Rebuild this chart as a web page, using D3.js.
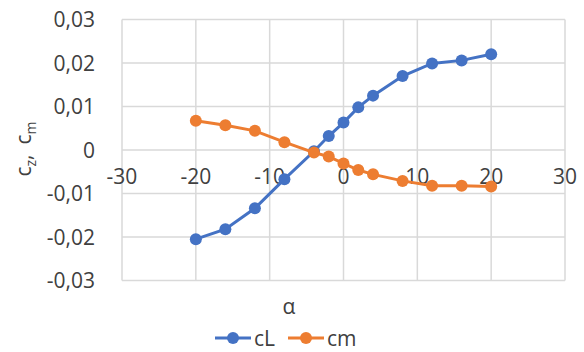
<!DOCTYPE html>
<html>
<head>
<meta charset="utf-8">
<script src="https://cdn.jsdelivr.net/npm/d3@7"></script>
<style>
  body { margin: 0; background: #fff; }
  svg { font-family: "Open Sans", sans-serif; }
  .grid line { stroke: #d9d9d9; stroke-width: 1.5; }
  .tick-label { fill: #404040; font-size: 21px; }
</style>
</head>
<body>
<svg width="584" height="352"></svg>
<script>
var alpha = [-20, -16, -12, -8, -4, -2, 0, 2, 4, 8, 12, 16, 20];
var cL = [-0.0205, -0.0182, -0.0134, -0.0067, -0.0003, 0.0032, 0.0063, 0.0098, 0.0125, 0.0170, 0.0199, 0.0206, 0.0220];
var cm = [0.0067, 0.0057, 0.0044, 0.0018, -0.0006, -0.0015, -0.0031, -0.0046, -0.0056, -0.0071, -0.0082, -0.0082, -0.0084];
var xTicks = [-30, -20, -10, 0, 10, 20, 30];
var yTicks = [-0.03, -0.02, -0.01, 0, 0.01, 0.02, 0.03];
var seriesNames = ["cL", "cm"];
var colors = ["#4472C4", "#ED7D31"];

var svg = d3.select("svg");
var x = d3.scaleLinear().domain([-30, 30]).range([122, 565]);
var y = d3.scaleLinear().domain([-0.03, 0.03]).range([280.5, 19.5]);

var fmtY = function (v) {
  if (Math.abs(v) < 1e-9) return "0";
  return d3.format(".2f")(v).replace(".", ",").replace("−", "-");
};

// gridlines
var grid = svg.append("g").attr("class", "grid");
grid.selectAll("line.h").data(yTicks).enter().append("line")
  .attr("x1", x(-30)).attr("x2", x(30))
  .attr("y1", function (d) { return y(d); }).attr("y2", function (d) { return y(d); });
grid.selectAll("line.v").data(xTicks).enter().append("line")
  .attr("y1", y(0.03)).attr("y2", y(-0.03))
  .attr("x1", function (d) { return x(d); }).attr("x2", function (d) { return x(d); });

// y tick labels
svg.selectAll("text.yl").data(yTicks).enter().append("text")
  .attr("class", "tick-label")
  .attr("x", 95)
  .attr("y", function (d) { return y(d); })
  .attr("dy", "0.36em")
  .attr("text-anchor", "end")
  .text(fmtY);

// x tick labels, sitting on the zero line
svg.selectAll("text.xl").data(xTicks).enter().append("text")
  .attr("class", "tick-label")
  .attr("x", function (d) { return x(d); })
  .attr("y", y(0) + 34)
  .attr("text-anchor", "middle")
  .text(function (d) { return String(d); });

// series
var series = [cL, cm];
var line = d3.line()
  .x(function (d, i) { return x(alpha[i]); })
  .y(function (d) { return y(d); });

series.forEach(function (vals, s) {
  svg.append("path")
    .attr("d", line(vals))
    .attr("fill", "none")
    .attr("stroke", colors[s])
    .attr("stroke-width", 3);
  svg.selectAll("circle.s" + s).data(vals).enter().append("circle")
    .attr("cx", function (d, i) { return x(alpha[i]); })
    .attr("cy", function (d) { return y(d); })
    .attr("r", 6)
    .attr("fill", colors[s]);
});

// axis titles
svg.append("text")
  .attr("class", "tick-label")
  .attr("x", 289).attr("y", 314)
  .attr("text-anchor", "middle")
  .text("α");

var yt = svg.append("text")
  .attr("class", "tick-label")
  .attr("transform", "translate(31,149) rotate(-90)")
  .attr("text-anchor", "middle");
yt.append("tspan").text("c");
yt.append("tspan").attr("font-size", 14).attr("dy", 5).text("z");
yt.append("tspan").attr("dy", -5).text(",");
yt.append("tspan").attr("dx", 10).text("c");
yt.append("tspan").attr("font-size", 14).attr("dy", 5).text("m");

// legend
var legend = svg.append("g");
var lx = [215, 288];
seriesNames.forEach(function (name, s) {
  var g = legend.append("g").attr("transform", "translate(" + lx[s] + ",338)");
  g.append("line").attr("x1", 0).attr("x2", 36).attr("y1", 0).attr("y2", 0)
    .attr("stroke", colors[s]).attr("stroke-width", 3);
  g.append("circle").attr("cx", 18).attr("cy", 0).attr("r", 6).attr("fill", colors[s]);
  g.append("text").attr("class", "tick-label")
    .attr("x", 39).attr("y", 0).attr("dy", "0.36em").text(name);
});
</script>
</body>
</html>
